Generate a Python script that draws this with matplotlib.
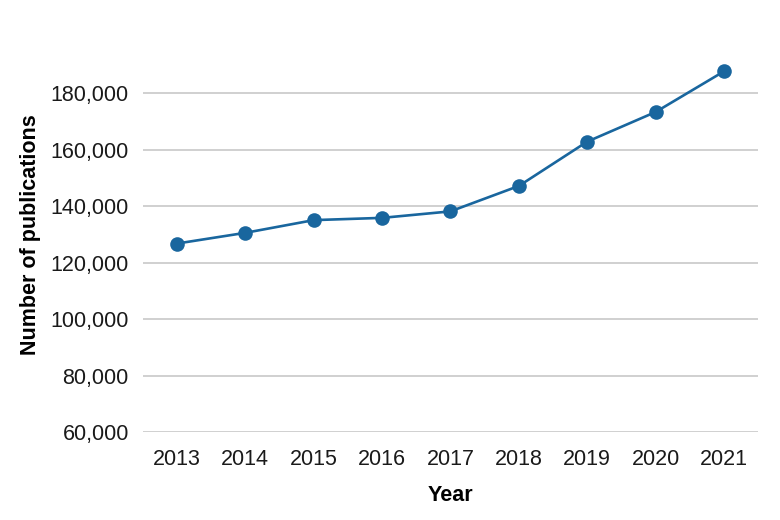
import matplotlib
matplotlib.use("Agg")
import matplotlib.pyplot as plt
from matplotlib.ticker import FuncFormatter

plt.rcParams['font.family'] = ['Liberation Sans', 'DejaVu Sans']

# data
years = [2013, 2014, 2015, 2016, 2017, 2018, 2019, 2020, 2021]
publications = [126800, 130600, 135100, 135900, 138200, 147200, 162900, 173400, 187800]
yticks = [60000, 80000, 100000, 120000, 140000, 160000, 180000]

blue = '#19669e'

fig = plt.figure(figsize=(7.8, 5.2), dpi=100)
ax = fig.add_axes([0.183, 0.169, 0.789, 0.76])

ax.plot(years, publications, color=blue, lw=1.9, marker='o', ms=10.5,
        markeredgewidth=0, zorder=3, clip_on=False)

ax.set_xlim(2012.5, 2021.5)
ax.set_ylim(60000, 200000)
ax.set_xticks(years)
ax.set_yticks(yticks)
ax.yaxis.set_major_formatter(FuncFormatter(lambda v, p: f'{int(v):,}'))

ax.grid(axis='y', color='#c4c4c4', lw=1.1)
ax.set_axisbelow(True)
for s in ax.spines.values():
    s.set_visible(False)
ax.tick_params(length=0, labelsize=15.5, colors='#1a1a1a')
ax.tick_params(axis='x', pad=12)
ax.tick_params(axis='y', pad=10)

ax.set_xlabel('Year', fontsize=15.5, fontweight='bold', labelpad=11)
ax.set_ylabel('Number of publications', fontsize=15.5, fontweight='bold', labelpad=7)

fig.savefig('out.png', dpi=100)
